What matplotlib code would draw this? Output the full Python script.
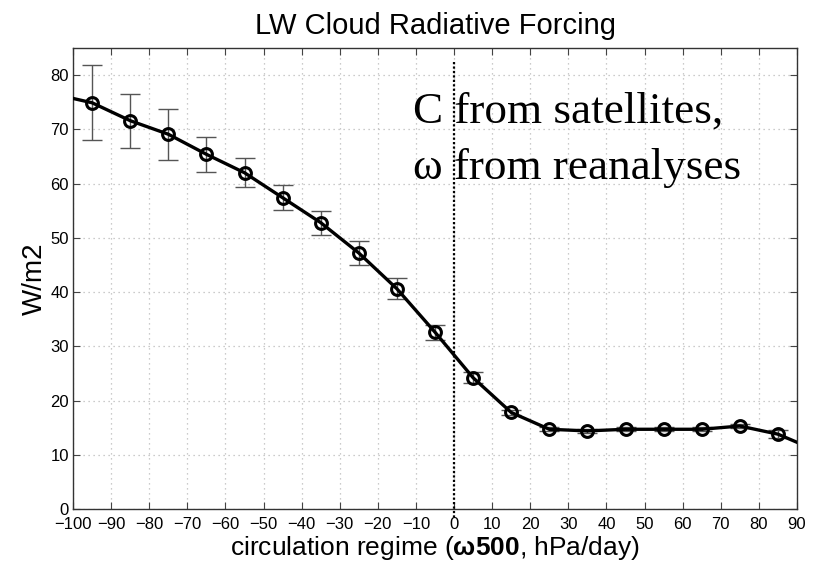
import numpy as np
import matplotlib
matplotlib.use('Agg')
from matplotlib import pyplot as plt

plt.rcParams['font.family'] = ['Liberation Sans', 'DejaVu Sans']
plt.rcParams['mathtext.fontset'] = 'custom'
plt.rcParams['mathtext.rm'] = 'Liberation Sans'
plt.rcParams['mathtext.bf'] = 'Liberation Sans:bold'

# bin centres (omega500, hPa/day) and LW CRF (W/m2)
omega = [-95, -85, -75, -65, -55, -45, -35, -25, -15, -5,
         5, 15, 25, 35, 45, 55, 65, 75, 85]
lwcrf = [74.9, 71.6, 69.1, 65.4, 62.0, 57.4, 52.8, 47.2, 40.6, 32.6,
         24.2, 17.8, 14.7, 14.4, 14.7, 14.7, 14.7, 15.3, 13.8]
err = [6.9, 5.0, 4.7, 3.2, 2.7, 2.3, 2.2, 2.3, 1.9, 1.4,
       1.0, 0.5, 0.4, 0.4, 0.4, 0.4, 0.4, 0.4, 0.8]

# line ends at the plot edges
edge_x = [-100, 90]
edge_y = [75.7, 12.3]

xticks = list(range(-100, 91, 10))
yticks = list(range(0, 81, 10))

fig = plt.figure(figsize=(8.17, 5.62), dpi=100)
ax = fig.add_axes([0.0894, 0.0943, 0.8861, 0.8203])

ax.errorbar(omega, lwcrf, yerr=err, fmt='none', ecolor='#555555',
            elinewidth=1.0, capsize=7.5, capthick=1.0, zorder=2)

line_x = [edge_x[0]] + omega + [edge_x[1]]
line_y = [edge_y[0]] + lwcrf + [edge_y[1]]
ax.plot(line_x, line_y, color='black', lw=2.4, zorder=3)
ax.plot(omega, lwcrf, 'o', ms=8.5, mfc='none', mec='black', mew=2.2, zorder=4)

ax.plot([0, 0], [82.5, -1.8], color='black', ls=(0, (1, 1)), lw=1.6,
        clip_on=False, zorder=5)

ax.text(-10.7, 71.3, 'C from satellites,', family='Liberation Serif',
        fontsize=32.5, va='baseline', ha='left', zorder=6)
ax.text(-10.7, 60.8, '\u03c9 from reanalyses', family='Liberation Serif',
        fontsize=32.5, va='baseline', ha='left', zorder=6)

ax.set_xlim(-100, 90)
ax.set_ylim(0, 85)
ax.set_xticks(xticks)
ax.set_yticks(yticks)
ax.grid(True, color='#bbbbbb', ls=(0, (1, 3)), lw=0.9)
ax.tick_params(direction='in', top=True, right=True, length=5,
               labelsize=12, color='#444444', pad=3)
ax.tick_params(axis='x', pad=6)
for s in ax.spines.values():
    s.set_color('#333333')
    s.set_linewidth(1.0)

ax.set_title('LW Cloud Radiative Forcing', fontsize=21, pad=10)
ax.set_xlabel('circulation regime ($\\mathbf{\\omega500}$, hPa/day)', fontsize=19, labelpad=1)
ax.set_ylabel('W/m2', fontsize=20, labelpad=2)

plt.savefig('out.png', dpi=100)
